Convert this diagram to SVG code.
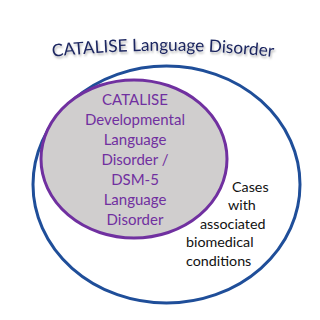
<svg xmlns="http://www.w3.org/2000/svg" width="320" height="320" viewBox="0 0 320 320">
<defs>
<style>
.title{font-family:Lato,"Liberation Sans",sans-serif;font-size:17.2px;fill:#1c2660}
.inner{font-family:Lato,"Liberation Sans",sans-serif;font-size:15px;fill:#7030a0;text-anchor:middle}
.side{font-family:Lato,"Liberation Sans",sans-serif;font-size:14.3px;fill:#111}
</style>
<path id="arc" d="M20,61 A1000,1000 0 0,1 306,61" fill="none"/>
<filter id="sh" x="-10%" y="-50%" width="120%" height="200%">
<feDropShadow dx="1" dy="2" stdDeviation="1" flood-color="#000" flood-opacity="0.3"/>
</filter>
</defs>
<rect width="320" height="320" fill="#fff"/>
<g id="outer">
<ellipse cx="166.5" cy="184.5" rx="133.5" ry="118.5" fill="none" stroke="#1f4e99" stroke-width="3"/>
<text class="title" filter="url(#sh)"><textPath href="#arc" startOffset="50%" text-anchor="middle">CATALISE Language Disorder</textPath></text>
</g>
<g id="inner">
<ellipse cx="134" cy="159" rx="93" ry="79" fill="#d0cece" stroke="#7030a0" stroke-width="3"/>
<text class="inner" x="135" y="105">CATALISE</text>
<text class="inner" x="135" y="125">Developmental</text>
<text class="inner" x="135" y="145">Language</text>
<text class="inner" x="135" y="165">Disorder /</text>
<text class="inner" x="135" y="185">DSM-5</text>
<text class="inner" x="135" y="205">Language</text>
<text class="inner" x="135" y="225">Disorder</text>
</g>
<g id="biomedical">
<text class="side" x="232" y="192">Cases</text>
<text class="side" x="228" y="210">with</text>
<text class="side" x="200" y="228.5">associated</text>
<text class="side" x="186" y="247">biomedical</text>
<text class="side" x="186" y="265.5">conditions</text>
</g>
</svg>
